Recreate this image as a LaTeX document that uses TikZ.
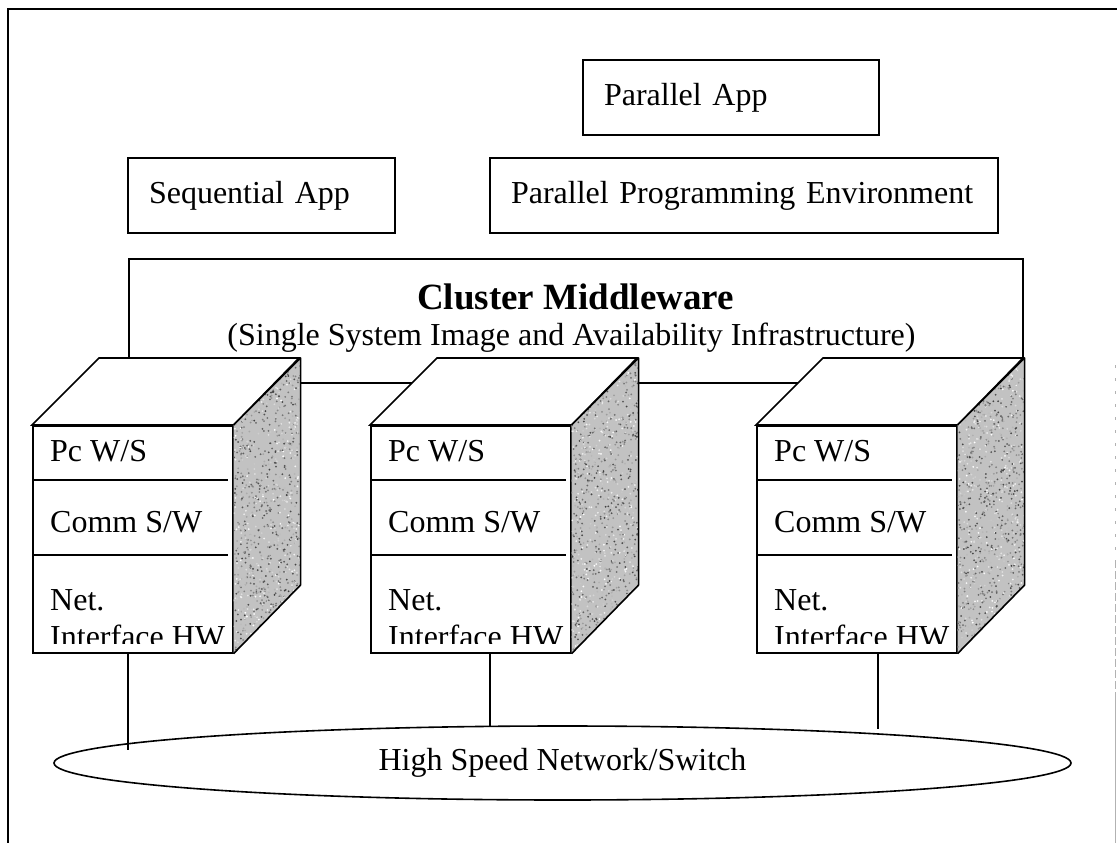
\documentclass[tikz,border=0pt]{standalone}
\usepackage{fontspec}
\setmainfont{Liberation Serif}
\usetikzlibrary{shapes.geometric,calc}

\tikzset{
  ln/.style={line width=1.6pt},
  thin line/.style={line width=1.3pt},
  txt/.style={font=\fontsize{32}{38}\selectfont, inner sep=0pt},
  appbox/.style={draw, ln, fill=white, inner xsep=21pt, inner ysep=0pt,
    align=left, font=\fontsize{32}{38}\selectfont},
  front/.style={draw, ln, fill=white, minimum width=200pt, minimum height=227pt,
    inner sep=0pt, anchor=north west},
  netshape/.style={draw, ln, ellipse, inner sep=0pt, minimum width=1017pt,
    minimum height=74pt, font=\fontsize{32}{38}\selectfont},
}

% one PC: white front face with three layers, white top, speckled side
\newcommand{\pcstack}[2]{%
  \node[front] (#1) at (#2,425) {};
  \filldraw[ln, fill=white] (#1.north west) -- ++(67,-67) -- ++(200,0)
      -- (#1.north east) -- cycle;
  \begin{scope}
    \clip (#1.north east) -- ++(67,-67) -- ++(0,227) -- (#1.south east) -- cycle;
    \fill[black!24] (#1.north east) -- ++(67,-67) -- ++(0,227) -- (#1.south east) -- cycle;
    \foreach \k in {1,...,900}{%
      \pgfmathsetmacro{\ru}{rnd}\pgfmathsetmacro{\rv}{rnd}%
      \pgfmathtruncatemacro{\gl}{75*rnd}%
      \fill[black!\gl] ($(#1.north east)+(67*\ru,-67*\ru)+(0,227*\rv)$) circle[radius=1pt];
    }
  \end{scope}
  \draw[ln, line join=round] (#1.north east) -- ++(67,-67) -- ++(0,227) -- (#1.south east);
  \draw[ln] ($(#1.north west)+(0,55)$) -- ($(#1.north east)+(-6,55)$);
  \draw[ln] ($(#1.north west)+(0,130)$) -- ($(#1.north east)+(-6,130)$);
  \node[txt, anchor=base west] (#1-pc) at ($(#1.north west)+(18,36)$) {Pc W/S};
  \node[txt, anchor=base west] (#1-comm) at ($(#1.north west)+(18,107)$) {Comm S/W};
  \node[txt, anchor=base west] (#1-net) at ($(#1.north west)+(18,185)$) {Net.};
  \begin{scope}
    \clip (#1.north west) rectangle ($(#1.north east)+(0,218)$);
    \node[txt, anchor=base west] (#1-hw) at ($(#1.north west)+(18,222)$) {Interface HW};
  \end{scope}
}

\begin{document}
\begin{tikzpicture}[x=1pt, y=-1pt]
  \pgfmathsetseed{17}
  \useasboundingbox (0,0) rectangle (1117,843);

  % page frame
  \draw[line width=2pt] (8,843) -- (8,9) -- (1117,9);
  \draw[gray!60, line width=1pt, dash pattern=on 3pt off 10pt] (1115,365) -- (1115,560);
  \draw[gray!60, line width=1pt, dash pattern=on 8pt off 3pt] (1115,560) -- (1115,700);
  \draw[gray!60, line width=1pt] (1115,700) -- (1115,843);

  % application layer
  \node[appbox, minimum width=296pt, minimum height=75pt, text width=254pt]
    (papp) at (731,97.5) {Parallel App};
  \node[appbox, minimum width=267pt, minimum height=75pt, text width=225pt]
    (seq) at (261.5,195.5) {Sequential App};
  \node[appbox, minimum width=508pt, minimum height=75pt, text width=466pt]
    (ppe) at (744,195.5) {Parallel Programming Environment};

  % middleware layer
  \node[draw, ln, minimum width=894pt, minimum height=124pt, inner sep=0pt,
    anchor=north west] (mw) at (128,258) {};
  \node[font=\fontsize{37}{42}\selectfont\bfseries, inner sep=0pt, anchor=base]
    (mwtitle) at (575.5,309) {Cluster Middleware};
  \node[txt, anchor=base] (mwsub) at (571.5,345)
    {(Single System Image and Availability Infrastructure)};

  % nodes of the cluster
  \pcstack{pcA}{32}
  \pcstack{pcB}{370}
  \pcstack{pcC}{756}

  % interconnect
  \node[netshape] (net) at (562.5,763) {High Speed Network/Switch};
  \coordinate (tapA) at (128,750);
  \coordinate (tapB) at (490,726.5);
  \coordinate (tapC) at (878,729);
  \draw[thin line] (tapA |- pcA.south) -- (tapA);
  \draw[thin line] (tapB |- pcB.south) -- (tapB);
  \draw[thin line] (tapC |- pcC.south) -- (tapC);
\end{tikzpicture}
\end{document}
